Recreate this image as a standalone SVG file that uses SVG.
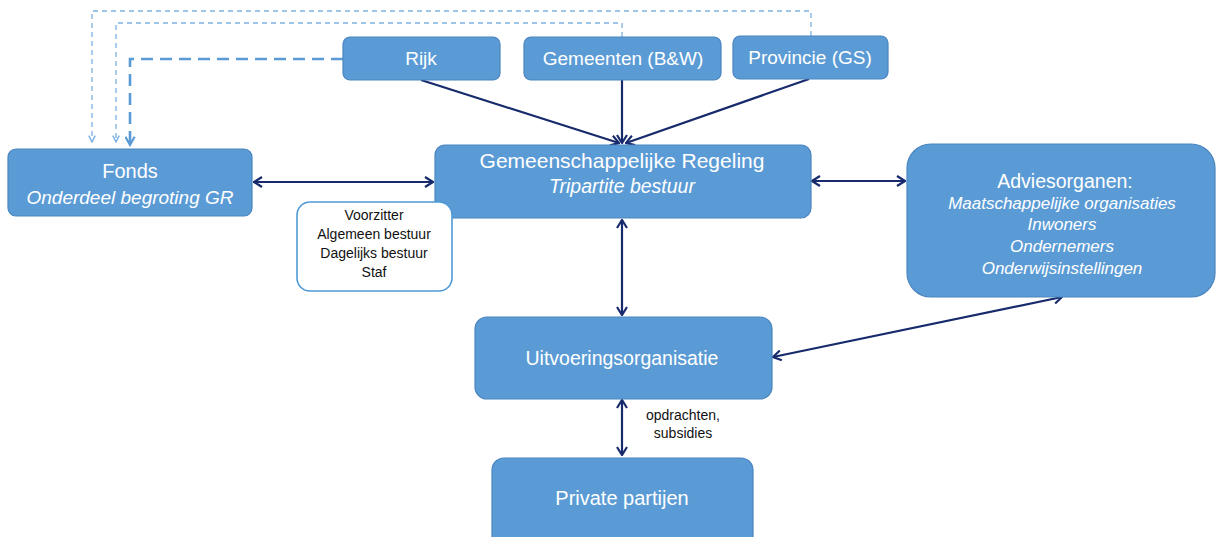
<svg xmlns="http://www.w3.org/2000/svg" width="1217" height="537" viewBox="0 0 1217 537">
<style>
.box{fill:#5b9bd5;stroke:#4a85bf;stroke-width:1.2}
.wbox{fill:#ffffff;stroke:#4f9ad6;stroke-width:1.6}
.t{font-family:"Liberation Sans",Arial,sans-serif;fill:#ffffff;text-anchor:middle}
.i{font-style:italic}
.k{font-family:"Liberation Sans",Arial,sans-serif;fill:#111111;text-anchor:middle}
.c{fill:none;stroke:#172a6c;stroke-width:2.2}
.dt{fill:none;stroke:#7db1e2;stroke-width:1.3;stroke-dasharray:5 4}
.dk{fill:none;stroke:#5b9bd5;stroke-width:2.6;stroke-dasharray:12 7}
</style>
<defs>
<marker id="ah" viewBox="0 0 10 12" refX="9" refY="6" markerWidth="10" markerHeight="12" markerUnits="userSpaceOnUse" orient="auto-start-reverse">
<path d="M1,1 L9,6 L1,11" fill="none" stroke="#172a6c" stroke-width="2.2"/>
</marker>
<marker id="al" viewBox="0 0 10 10" refX="9" refY="5" markerWidth="8" markerHeight="8" markerUnits="userSpaceOnUse" orient="auto">
<path d="M1,1 L9,5 L1,9" fill="none" stroke="#7db1e2" stroke-width="1.8"/>
</marker>
<marker id="ad" viewBox="0 0 12 12" refX="10" refY="6" markerWidth="11" markerHeight="11" markerUnits="userSpaceOnUse" orient="auto">
<path d="M1,1 L10,6 L1,11" fill="none" stroke="#5b9bd5" stroke-width="2.4"/>
</marker>
</defs>
<g id="connectors">
<path class="dt" d="M811,36 L811,11 L92,11 L92,142" marker-end="url(#al)"/>
<path class="dt" d="M622,37 L622,23 L116,23 L116,142" marker-end="url(#al)"/>
<path class="dk" d="M343,59 L130,59 L130,145" marker-end="url(#ad)"/>
<line class="c" x1="421" y1="80" x2="619" y2="143" marker-end="url(#ah)"/>
<line class="c" x1="622" y1="80" x2="622" y2="143" marker-end="url(#ah)"/>
<line class="c" x1="809" y1="79" x2="626" y2="143" marker-end="url(#ah)"/>
<line class="c" x1="254" y1="182" x2="433" y2="182" marker-start="url(#ah)" marker-end="url(#ah)"/>
<line class="c" x1="812" y1="181" x2="905" y2="181" marker-start="url(#ah)" marker-end="url(#ah)"/>
<line class="c" x1="622" y1="220" x2="622" y2="315" marker-start="url(#ah)" marker-end="url(#ah)"/>
<line class="c" x1="773" y1="357" x2="1062" y2="297" marker-start="url(#ah)" marker-end="url(#ah)"/>
<line class="c" x1="622" y1="400" x2="622" y2="455" marker-start="url(#ah)" marker-end="url(#ah)"/>
<text class="k" x="683" y="420" font-size="14">opdrachten,</text>
<text class="k" x="683" y="438" font-size="14">subsidies</text>
</g>
<g id="rijk">
<rect class="box" x="343" y="37" width="157" height="43" rx="7"/>
<text class="t" x="421" y="65" font-size="19">Rijk</text>
</g>
<g id="gemeenten">
<rect class="box" x="524" y="37" width="197" height="43" rx="7"/>
<text class="t" x="623" y="65" font-size="19">Gemeenten (B&amp;W)</text>
</g>
<g id="provincie">
<rect class="box" x="733" y="36" width="155" height="43" rx="7"/>
<text class="t" x="810" y="64" font-size="19">Provincie (GS)</text>
</g>
<g id="fonds">
<rect class="box" x="8" y="149" width="244" height="67" rx="8"/>
<text class="t" x="130" y="178" font-size="20">Fonds</text>
<text class="t i" x="130" y="204" font-size="19">Onderdeel begroting GR</text>
</g>
<g id="gr">
<rect class="box" x="435" y="145" width="376" height="73" rx="10"/>
<text class="t" x="622" y="168" font-size="21">Gemeenschappelijke Regeling</text>
<text class="t i" x="622" y="193" font-size="19.5">Tripartite bestuur</text>
</g>
<g id="bestuur">
<rect class="wbox" x="297" y="202" width="155" height="89" rx="13"/>
<text class="k" x="374" y="220" font-size="14">Voorzitter</text>
<text class="k" x="374" y="239" font-size="14">Algemeen bestuur</text>
<text class="k" x="374" y="258" font-size="14">Dagelijks bestuur</text>
<text class="k" x="374" y="277" font-size="14">Staf</text>
</g>
<g id="advies">
<rect class="box" x="907" y="144" width="308" height="153" rx="24"/>
<text class="t" x="1065" y="188" font-size="19.5">Adviesorganen:</text>
<text class="t i" x="1062" y="209" font-size="17">Maatschappelijke organisaties</text>
<text class="t i" x="1062" y="230" font-size="17">Inwoners</text>
<text class="t i" x="1062" y="252" font-size="17">Ondernemers</text>
<text class="t i" x="1062" y="274" font-size="17">Onderwijsinstellingen</text>
</g>
<g id="uitvoering">
<rect class="box" x="475" y="317" width="297" height="82" rx="12"/>
<text class="t" x="622" y="365" font-size="19.5">Uitvoeringsorganisatie</text>
</g>
<g id="private">
<rect class="box" x="492" y="458" width="261" height="90" rx="12"/>
<text class="t" x="622" y="505" font-size="20">Private partijen</text>
</g>
</svg>
